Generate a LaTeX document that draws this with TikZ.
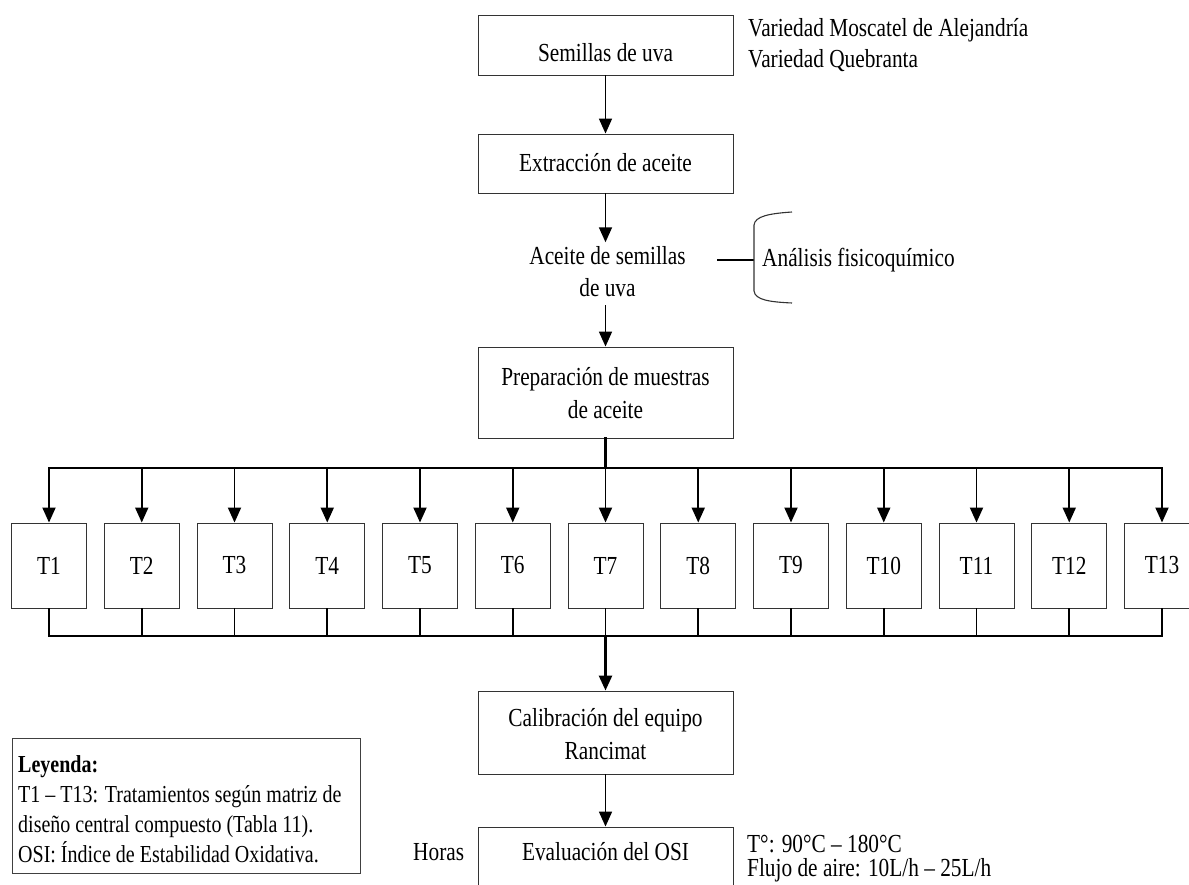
\documentclass[tikz,border=0pt]{standalone}
\usepackage{fontspec}
\setmainfont{Liberation Serif}[FakeStretch=0.82]
\usetikzlibrary{arrows.meta}
\begin{document}
\begin{tikzpicture}[x=1pt,y=-1pt,
  every node/.style={font=\fontsize{26}{32}\selectfont, inner sep=0pt},
  box/.style={draw=black!80, line width=0.9pt, minimum width=255pt},
  tbox/.style={draw=black!80, line width=0.9pt, minimum width=75pt, minimum height=85pt},
  legbox/.style={draw=black!75, line width=0.9pt, minimum width=348pt, minimum height=135pt},
  txt/.style={anchor=base},
  ltxt/.style={anchor=base west},
  legtxt/.style={anchor=base west, font=\fontsize{24.4}{30}\selectfont},
  tip/.style={-{Triangle[length=15pt,width=13pt]}},
  arr/.style={tip, line width=1.7pt},
  branch/.style={tip, line width=1.9pt},
  bus/.style={line width=2.8pt, line cap=rect},
  stem/.style={line width=1.7pt},
  bracket/.style={draw=black!80, line width=1.1pt}]

\useasboundingbox (0,0) rectangle (1189,885);
\clip (0,0) rectangle (1189,885);

% main process boxes
\node[box, minimum height=60pt] (b1) at (605.5,45) {};
\node[box, minimum height=59pt] (b2) at (605.5,163.5) {};
\node[box, minimum height=91pt] (b3) at (605.5,392.5) {};
\node[box, minimum height=83pt] (b4) at (605.5,732.5) {};
\node[box, minimum height=66pt] (b5) at (605.5,860) {};

% box texts
\node[txt] (s1) at (605.5,62) {Semillas de uva};
\node[txt] (s2) at (605.5,172) {Extracción de aceite};
\node[txt] (s3a) at (605.5,385) {Preparación de muestras};
\node[txt] (s3b) at (605.5,418) {de aceite};
\node[txt] (s4a) at (605.5,726) {Calibración del equipo};
\node[txt] (s4b) at (605.5,759) {Rancimat};
\node[txt] (s5) at (605.5,860) {Evaluación del OSI};

% side notes
\node[ltxt] (var1) at (748,37) {Variedad Moscatel de Alejandría};
\node[ltxt] (var2) at (748,68) {Variedad Quebranta};
\node[txt, inner ysep=4.5pt] (ac1) at (607.5,265) {Aceite de semillas};
\node[txt, inner ysep=8pt] (ac2) at (607.5,297) {de uva};
\node[ltxt] (afq) at (762,267) {Análisis fisicoquímico};
\node[ltxt] (horas) at (413,860) {Horas};
\node[ltxt, font=\fontsize{26}{23}\selectfont] (cond) at (747,852)
  {\begin{tabular}[t]{@{}l@{}}T°: 90°C – 180°C\\Flujo de aire: 10L/h – 25L/h\end{tabular}};

% legend
\node[legbox] (leg) at (186,805.5) {};
\node[legtxt] (lg0) at (18,772) {\bfseries Leyenda:};
\node[legtxt] (lg1) at (18,802) {T1 – T13: Tratamientos según matriz de};
\node[legtxt] (lg2) at (18,832) {diseño central compuesto (Tabla 11).};
\node[legtxt] (lg3) at (18,862) {OSI: Índice de Estabilidad Oxidativa.};

% treatments
\foreach \i in {1,...,13}
  \node[tbox] (t\i) at ({49+(\i-1)*92.75},565.5) {T\i};

% upper flow
\draw[arr] (b1) -- (b2);
\draw[arr] (b2.south) -- (b2.south |- ac1.north);
\draw[arr] (b3.north |- ac2.south) -- (b3.north);

% link to the physicochemical analysis
\coordinate (jA) at (717,260);
\coordinate (jB) at (754,260);
\draw[line width=1.7pt] (jA) -- (jB);
\draw[bracket] (792,212) .. controls (770,213.5) and (755,216) .. (754,225)
  -- (754,291) .. controls (755,300) and (770,302) .. (792,303);

% distribution bus
\coordinate (busT) at (605.5,468);
\draw[bus] (b3.south) -- (busT);
\draw[bus] (t1.north |- busT) -- (t13.north |- busT);
\foreach \i in {1,...,13}
  \draw[branch] (t\i.north |- busT) -- (t\i.north);

% collection bus
\coordinate (busB) at (605.5,636);
\foreach \i in {1,...,13}
  \draw[stem] (t\i.south) -- (t\i.south |- busB);
\draw[bus] (t1.south |- busB) -- (t13.south |- busB);
\draw[tip, line width=2.6pt] (busB) -- (b4.north);

% lower flow
\draw[arr] (b4) -- (b5);
\end{tikzpicture}
\end{document}
